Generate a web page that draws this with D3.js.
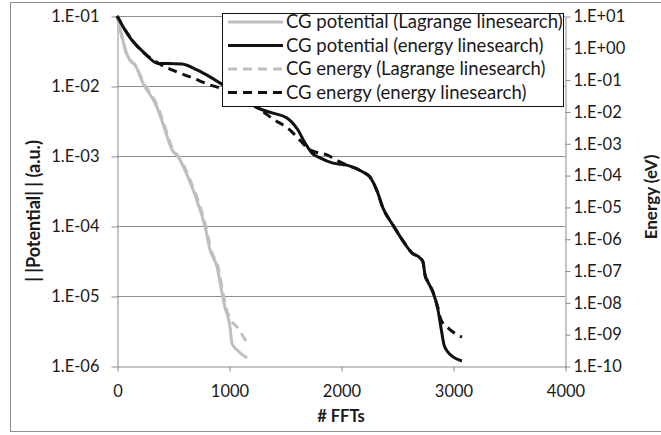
<!DOCTYPE html>
<html>
<head>
<meta charset="utf-8">
<script src="https://cdn.jsdelivr.net/npm/d3@7"></script>
<style>
  body { margin: 0; background: #fff; }
  #chart { width: 661px; height: 435px; }
  text { font-family: Lato, "Liberation Sans", sans-serif; fill: #1a1a1a; }
</style>
</head>
<body>
<div id="chart"></div>
<script>
// CG potential, Lagrange linesearch (left axis)
const lagPotFFT = [0, 45, 80, 116, 161, 232, 357, 429, 491, 545, 607, 670, 714, 786, 830, 893, 938, 964, 991, 1009, 1027, 1071, 1161];
const lagPotVal = [1.0e-1, 5.0e-2, 3.06e-2, 2.34e-2, 2.0e-2, 1.1e-2, 5.0e-3, 2.34e-3, 1.23e-3, 9.8e-4, 6.3e-4, 3.6e-4, 2.3e-4, 9.8e-5, 4.6e-5, 2.6e-5, 1.1e-5, 6.9e-6, 5.0e-6, 3.6e-6, 2.1e-6, 1.7e-6, 1.3e-6];

// CG potential, energy linesearch (left axis)
const enPotFFT = [0, 62, 134, 232, 366, 455, 580, 714, 830, 920, 1098, 1250, 1393, 1518, 1616, 1679, 1741, 1813, 1929, 2054, 2196, 2259, 2321, 2375, 2464, 2554, 2634, 2705, 2732, 2750, 2777, 2821, 2866, 2893, 2920, 2955, 3000, 3080];
const enPotVal = [1.0e-1, 6.7e-2, 4.5e-2, 3.1e-2, 2.1e-2, 2.1e-2, 2.06e-2, 1.7e-2, 1.35e-2, 1.1e-2, 7.4e-3, 4.9e-3, 4.1e-3, 3.5e-3, 2.35e-3, 1.53e-3, 1.1e-3, 9.4e-4, 7.9e-4, 7.4e-4, 5.9e-4, 5.0e-4, 3.2e-4, 1.8e-4, 1.03e-4, 6.1e-5, 4.1e-5, 3.5e-5, 3.06e-5, 2.0e-5, 1.58e-5, 1.14e-5, 6.3e-6, 3.5e-6, 2.0e-6, 1.58e-6, 1.35e-6, 1.18e-6];

// CG energy, Lagrange linesearch (right axis, eV)
const lagEnFFT = [0, 45, 80, 116, 161, 240, 365, 437, 499, 552, 614, 678, 722, 795, 839, 902, 946, 973, 1000, 1080, 1161];
const lagEnVal = [10, 2.19, 0.74, 0.41, 0.29, 7.8e-2, 1.38e-2, 2.6e-3, 6.2e-4, 3.7e-4, 1.45e-4, 4.2e-5, 1.65e-5, 2.3e-6, 4.4e-7, 1.3e-7, 2.0e-8, 7.1e-9, 3.5e-9, 1.56e-9, 5.3e-10];

// CG energy, energy linesearch (right axis, eV)
const enEnFFT = [0, 62, 134, 232, 366, 536, 679, 830, 920, 1098, 1259, 1393, 1545, 1607, 1723, 1875, 1991, 2054, 2196, 2259, 2321, 2375, 2464, 2554, 2634, 2705, 2732, 2750, 2777, 2821, 2866, 2893, 2946, 3000, 3080];
const enEnVal = [10, 4.2, 1.76, 0.74, 0.333, 0.174, 0.112, 6.8e-2, 5.5e-2, 2.84e-2, 1.28e-2, 5.8e-3, 2.6e-3, 1.57e-3, 6.2e-4, 4.3e-4, 2.6e-4, 2.07e-4, 1.25e-4, 8.7e-5, 3.2e-5, 9.2e-6, 2.7e-6, 8.5e-7, 3.6e-7, 2.5e-7, 1.86e-7, 7.2e-8, 4.4e-8, 2.1e-8, 6.7e-9, 2.8e-9, 1.7e-9, 1.17e-9, 8.1e-10];

const xTicks = [0, 1000, 2000, 3000, 4000];
const leftTicks = [1e-1, 1e-2, 1e-3, 1e-4, 1e-5, 1e-6];
const rightTicks = [1e1, 1e0, 1e-1, 1e-2, 1e-3, 1e-4, 1e-5, 1e-6, 1e-7, 1e-8, 1e-9, 1e-10];

const legendLabels = ["CG potential (Lagrange linesearch)", "CG potential (energy linesearch)",
  "CG energy (Lagrange linesearch)", "CG energy (energy linesearch)"];

let width = 661, height = 435;
let plot = { left: 117, right: 565, top: 16, bottom: 366 };

const svg = d3.select("#chart").append("svg")
  .attr("width", width)
  .attr("height", height);

// outer chart border (its right side runs past the picture)
svg.append("rect")
  .attr("x", 10.5).attr("y", 2.5)
  .attr("width", 700).attr("height", 429)
  .attr("fill", "none")
  .attr("stroke", "#8c8c8c");

let xScale = d3.scaleLinear().domain([0, 4000]).range([plot.left, plot.right]);
let yLeft = d3.scaleLog().domain([1e-6, 1e-1]).range([plot.bottom, plot.top]);
let yRight = d3.scaleLog().domain([1e-10, 1e1]).range([plot.bottom, plot.top]);

function sci(d) {
  let e = Math.round(Math.log10(d));
  return "1.E" + (e < 0 ? "-" : "+") + String(Math.abs(e)).padStart(2, "0");
}

// horizontal gridlines on the left axis decades
svg.append("g")
  .selectAll("line")
  .data(leftTicks.slice(0, -1))
  .enter()
  .append("line")
  .attr("x1", plot.left).attr("x2", plot.right)
  .attr("y1", d => Math.round(yLeft(d)) + 0.5)
  .attr("y2", d => Math.round(yLeft(d)) + 0.5)
  .attr("stroke", "#8c8c8c");

let xAxis = d3.axisBottom(xScale).tickValues(xTicks).tickFormat(d3.format("d"))
  .tickSizeInner(5).tickSizeOuter(0).tickPadding(14);
svg.append("g").classed("xAxis", true)
  .attr("transform", `translate(0.5,${plot.bottom + 0.5})`)
  .call(xAxis);

let leftAxis = d3.axisLeft(yLeft).tickValues(leftTicks).tickFormat(sci).tickSizeInner(6).tickSizeOuter(0).tickPadding(12);
svg.append("g").classed("yAxis", true)
  .attr("transform", `translate(${plot.left + 0.5},0.5)`)
  .call(leftAxis);

let rightAxis = d3.axisRight(yRight).tickValues(rightTicks).tickFormat(sci).tickSizeInner(5).tickSizeOuter(0).tickPadding(3);
svg.append("g").classed("yAxis", true)
  .attr("transform", `translate(${plot.right + 0.5},0.5)`)
  .call(rightAxis);

svg.selectAll(".xAxis, .yAxis").selectAll("path, line").attr("stroke", "#8c8c8c");
svg.selectAll(".xAxis, .yAxis").selectAll("text")
  .style("font-family", "Lato, sans-serif")
  .style("font-size", "16.5px")
  .attr("fill", "#1a1a1a");

// axis titles
svg.append("text")
  .attr("x", 341).attr("y", 422)
  .attr("text-anchor", "middle")
  .style("font-weight", "bold").style("font-size", "16.5px")
  .text("# FFTs");

svg.append("text")
  .attr("transform", "translate(40,211) rotate(-90)")
  .attr("text-anchor", "middle")
  .style("font-weight", "bold").style("font-size", "18px")
  .text("| |Potential| | (a.u.)");

svg.append("text")
  .attr("transform", "translate(657,197) rotate(-90)")
  .attr("text-anchor", "middle")
  .style("font-weight", "bold").style("font-size", "17px")
  .text("Energy (eV)");

// series
const series = [
  { fft: lagPotFFT, val: lagPotVal, y: yLeft, color: "#bfbfbf", dash: null },
  { fft: enPotFFT, val: enPotVal, y: yLeft, color: "#111111", dash: null },
  { fft: lagEnFFT, val: lagEnVal, y: yRight, color: "#bfbfbf", dash: "9,6" },
  { fft: enEnFFT, val: enEnVal, y: yRight, color: "#111111", dash: "9,6" }
];

series.forEach(function (s) {
  let pts = s.fft.map((f, i) => [f, s.val[i]]);
  const drawLine = d3.line()
    .x(d => xScale(d[0]))
    .y(d => s.y(d[1]))
    .curve(d3.curveMonotoneX);
  svg.append("path")
    .attr("d", drawLine(pts))
    .attr("fill", "none")
    .attr("stroke", s.color)
    .attr("stroke-width", 3)
    .attr("stroke-linejoin", "round")
    .attr("stroke-dasharray", s.dash);
});

// legend
let legend = svg.append("g").attr("transform", "translate(222,13)");
legend.append("rect")
  .attr("x", 0.5).attr("y", 0.5)
  .attr("width", 341).attr("height", 93)
  .attr("fill", "#fff")
  .attr("stroke", "#111");

legendLabels.forEach(function (label, i) {
  let yy = 9 + i * 23.5;
  legend.append("line")
    .attr("x1", 6).attr("x2", 61)
    .attr("y1", yy).attr("y2", yy)
    .attr("stroke", series[i].color)
    .attr("stroke-width", 3)
    .attr("stroke-dasharray", series[i].dash);
  legend.append("text")
    .attr("x", 64).attr("y", yy)
    .attr("dy", "0.35em")
    .style("font-size", "18.5px")
    .text(label);
});
</script>
</body>
</html>
